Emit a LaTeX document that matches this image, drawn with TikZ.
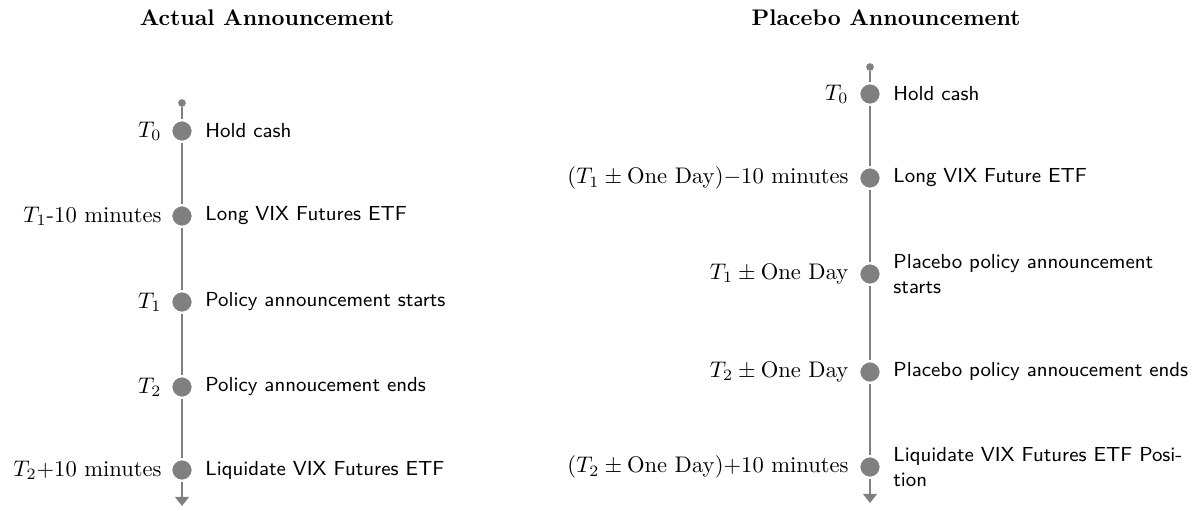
\documentclass[tikz,border=0pt]{standalone}
\usetikzlibrary{arrows.meta}
\tikzset{
  dot/.style={circle,fill=gray,draw=white,line width=1.2pt,minimum size=9.8pt,inner sep=0pt},
  sdot/.style={circle,fill=gray,minimum size=3.4pt,inner sep=0pt},
  tl/.style={draw=gray,line width=1.1pt},
  tlend/.style={draw=gray,line width=1.1pt,-{Triangle[width=6pt,length=4pt]}},
  lab/.style={anchor=east,inner sep=0pt},
  desc/.style={anchor=west,inner sep=0pt,font=\sffamily\small,align=left},
  ttl/.style={anchor=base,inner sep=0pt,font=\bfseries},
}
\begin{document}
\begin{tikzpicture}[x=0.4431pt,y=-0.4431pt]
\useasboundingbox (0,0) rectangle (1198,510);
% titles
\node[ttl] (t1) at (267,25) {Actual Announcement};
\node[ttl] (t2) at (886,25) {Placebo Announcement};
% left timeline
\node[sdot] (as) at (182,103) {};
\node[dot] (a0) at (182,131) {};
\node[dot] (a1) at (182,216) {};
\node[dot] (a2) at (182,302) {};
\node[dot] (a3) at (182,387) {};
\node[dot] (a4) at (182,470) {};
\coordinate (ae) at (182,506);
\draw[tl] (as) -- (a0);
\draw[tl] (a0) -- (a1);
\draw[tl] (a1) -- (a2);
\draw[tl] (a2) -- (a3);
\draw[tl] (a3) -- (a4);
\draw[tlend] (a4) -- (ae);
\node[lab] (al0) at (162,131) {$T_0$};
\node[lab] (al1) at (162,216) {$T_1$-10 minutes};
\node[lab] (al2) at (162,302) {$T_1$};
\node[lab] (al3) at (162,387) {$T_2$};
\node[lab] (al4) at (162,470) {$T_2$+10 minutes};
\node[desc] (ad0) at (205,131) {Hold cash};
\node[desc] (ad1) at (205,216) {Long VIX Futures ETF};
\node[desc] (ad2) at (205,302) {Policy announcement starts};
\node[desc] (ad3) at (205,387) {Policy annoucement ends};
\node[desc] (ad4) at (205,470) {Liquidate VIX Futures ETF};
% right timeline
\node[sdot] (bs) at (870,67) {};
\node[dot] (b0) at (870,94) {};
\node[dot] (b1) at (870,178) {};
\node[dot] (b2) at (870,274) {};
\node[dot] (b3) at (870,372) {};
\node[dot] (b4) at (870,467) {};
\coordinate (be) at (870,503);
\draw[tl] (bs) -- (b0);
\draw[tl] (b0) -- (b1);
\draw[tl] (b1) -- (b2);
\draw[tl] (b2) -- (b3);
\draw[tl] (b3) -- (b4);
\draw[tlend] (b4) -- (be);
\node[lab] (bl0) at (849,94) {$T_0$};
\node[lab] (bl1) at (849,178) {$(T_1\pm\mathrm{One~Day})$$-$10 minutes};
\node[lab] (bl2) at (849,274) {$T_1\pm\mathrm{One~Day}$};
\node[lab] (bl3) at (849,372) {$T_2\pm\mathrm{One~Day}$};
\node[lab] (bl4) at (849,467) {$(T_2\pm\mathrm{One~Day})$+10 minutes};
\node[desc] (bd0) at (893,94) {Hold cash};
\node[desc] (bd1) at (893,178) {Long VIX Future ETF};
\node[desc] (bd2) at (893,274) {Placebo policy announcement\\starts};
\node[desc] (bd3) at (893,372) {Placebo policy annoucement ends};
\node[desc] (bd4) at (893,467) {Liquidate VIX Futures ETF Posi-\\tion};
\end{tikzpicture}
\end{document}
